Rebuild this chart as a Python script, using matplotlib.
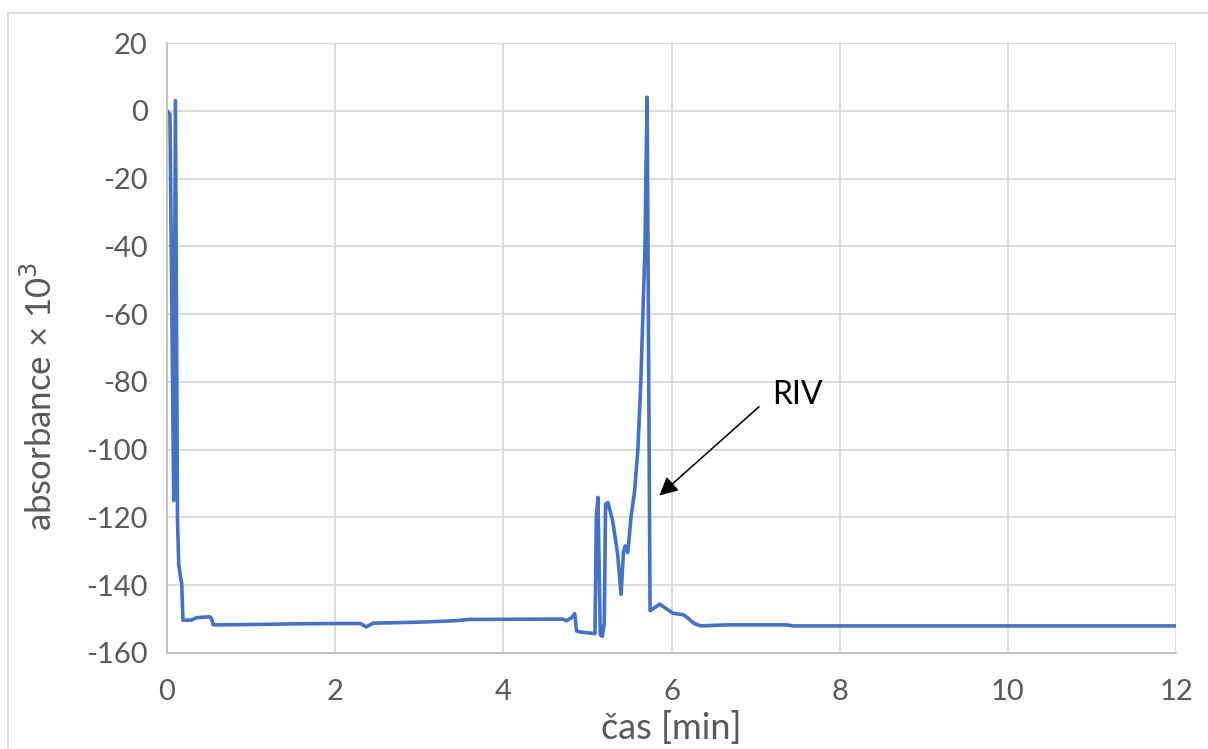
import numpy as np
import matplotlib
matplotlib.use("Agg")
import matplotlib.pyplot as plt
from matplotlib.patches import Rectangle

cas = [0.0, 0.035, 0.08, 0.10, 0.125, 0.14, 0.16, 0.175, 0.19, 0.29,
       0.35, 0.51, 0.53, 0.55, 1.0, 1.5, 1.97, 2.30, 2.37, 2.45,
       3.0, 3.40, 3.6, 4.55, 4.71, 4.75, 4.81, 4.85, 4.87, 4.91,
       5.09, 5.106, 5.125, 5.153, 5.177, 5.20, 5.216, 5.244, 5.30, 5.36,
       5.40, 5.43, 5.45, 5.48, 5.52, 5.56, 5.60, 5.635, 5.66, 5.685,
       5.695, 5.705, 5.71, 5.745, 5.86, 6.02, 6.14, 6.19, 6.27, 6.35,
       6.65, 7.37, 7.44, 12.0]
absorbance = [0, -1, -115, 3, -121, -134, -137.5, -139.5, -150.3, -150.3,
              -149.6, -149.3, -150, -151.7, -151.6, -151.4, -151.3, -151.3, -152.3, -151.2,
              -150.9, -150.5, -150.1, -150.0, -150.0, -150.5, -149.6, -148.4, -153.5, -153.8,
              -154.3, -120, -114.1, -154.6, -155.1, -151.2, -116.1, -115.6, -121, -130.9,
              -142.7, -129.9, -128.4, -130.4, -119.5, -112.5, -100, -80, -60, -40,
              -20, -5, 4, -147.5, -145.6, -148.3, -148.7, -149.6, -151.3, -152.0,
              -151.7, -151.7, -152.0, -152.0]

x_ticks = [0, 2, 4, 6, 8, 10, 12]
y_ticks = [20, 0, -20, -40, -60, -80, -100, -120, -140, -160]

plt.rcParams['font.family'] = ['Lato', 'DejaVu Sans']
plt.rcParams['axes.unicode_minus'] = False

fig = plt.figure(figsize=(12.08, 7.49), dpi=100)
ax = fig.add_axes([167/1208, 1 - 653/749, (1176 - 167)/1208, (653 - 43)/749])

ax.plot(cas, absorbance, color='#4472C4', lw=2.6, solid_joinstyle='round')

ax.set_xlim(0, 12)
ax.set_ylim(-160, 20)
ax.set_xticks(x_ticks)
ax.set_yticks(y_ticks)
ax.grid(True, color='#d9d9d9', lw=1.3)
ax.set_axisbelow(True)
ax.tick_params(length=0, labelsize=21, labelcolor='#595959')
ax.tick_params(axis='x', pad=19)
ax.tick_params(axis='y', pad=14)
for s in ['top', 'right']:
    ax.spines[s].set_visible(False)
for s in ['left', 'bottom']:
    ax.spines[s].set_color('#bfbfbf')
    ax.spines[s].set_linewidth(1.3)

ax.set_xlabel('čas [min]', fontsize=26, color='#595959', labelpad=4)
fig.text(40/1208, 1 - 396/749, 'absorbance × 10$^3$', rotation=90, fontsize=25,
         color='#595959', ha='center', va='center')

# annotation RIV
ax.text(7.50, -83.9, 'RIV', fontsize=23, ha='center', va='center', color='black')
ax.annotate('', xy=(5.83, -114.1), xytext=(7.065, -86.8),
            arrowprops=dict(arrowstyle='-|>', mutation_scale=28, lw=1.1, color='black'))

# cadre du graphique
fig.add_artist(Rectangle((8/1208, -0.5), 2, 0.5 + 1 - 13/749, transform=fig.transFigure,
                         fill=False, edgecolor='#d9d9d9', lw=1.3))

fig.savefig('out.png', dpi=100)
